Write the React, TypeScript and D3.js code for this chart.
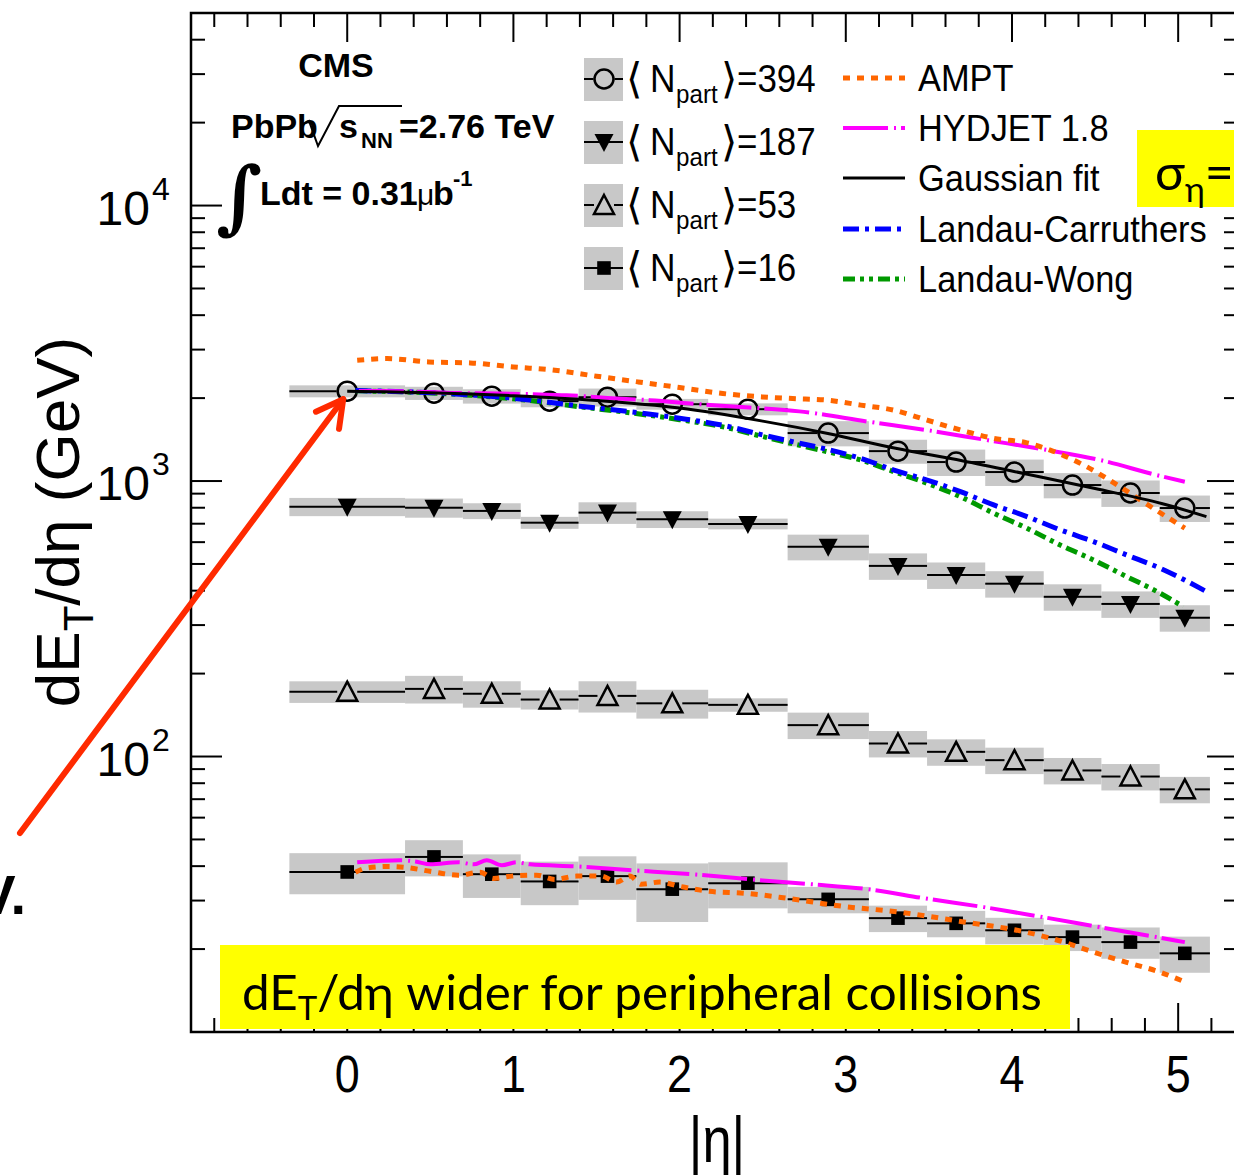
import React from "react";
import * as d3 from "d3";

// |eta| bins of the calorimeter towers
const binCenters = [0, 0.522, 0.87, 1.218, 1.566, 1.956, 2.411, 2.894, 3.314, 3.664, 4.015, 4.364, 4.713, 5.04];
const binLow = [-0.348, 0.348, 0.696, 1.044, 1.392, 1.74, 2.172, 2.65, 3.139, 3.489, 3.839, 4.191, 4.538, 4.889];
const binHigh = [0.348, 0.696, 1.044, 1.392, 1.74, 2.172, 2.65, 3.139, 3.489, 3.839, 4.191, 4.538, 4.889, 5.191];

// dE_T/deta (GeV) per centrality, with relative systematic uncertainties
const et394 = [2119, 2084, 2032, 1950, 2015, 1901, 1823, 1493, 1284, 1172, 1078, 967, 905, 798];
const sys394 = [0.05, 0.055, 0.06, 0.05, 0.075, 0.045, 0.05, 0.105, 0.1, 0.11, 0.11, 0.105, 0.11, 0.11];
const et187 = [807, 800, 779, 706, 768, 726, 699, 577, 492, 456, 424, 380, 358, 319];
const sys187 = [0.076, 0.08, 0.066, 0.05, 0.09, 0.07, 0.045, 0.107, 0.11, 0.11, 0.11, 0.11, 0.11, 0.11];
const et53 = [172, 176, 169, 161, 166, 156, 154, 130, 111.5, 104, 97, 89, 84.6, 76];
const sys53 = [0.09, 0.115, 0.11, 0.08, 0.13, 0.12, 0.056, 0.11, 0.11, 0.11, 0.11, 0.11, 0.11, 0.11];
const et16 = [38.1, 43.2, 37.4, 35.2, 36.8, 33.0, 34.7, 30.3, 25.9, 24.8, 23.4, 22.1, 21.2, 19.3];
const sys16 = [0.17, 0.15, 0.18, 0.18, 0.18, 0.24, 0.19, 0.11, 0.11, 0.11, 0.11, 0.11, 0.13, 0.15];

// model curves
const gaussEta = [0, 0.5, 1.0, 1.5, 2.0, 2.5, 2.9, 3.3, 3.7, 4.1, 4.5, 4.9, 5.17];
const gaussVal = [2119, 2093, 2040, 1960, 1840, 1650, 1485, 1315, 1185, 1056, 939, 829, 743];
const amptEta394 = [0.06, 0.24, 0.49, 0.74, 1.0, 1.25, 1.5, 1.75, 2.0, 2.26, 2.5, 2.68, 2.89, 3.09, 3.29, 3.49, 3.73, 3.89, 4.09, 4.23, 4.45, 4.65, 4.85, 5.04];
const amptVal394 = [2744, 2783, 2706, 2684, 2595, 2524, 2402, 2290, 2185, 2078, 2020, 1993, 1966, 1886, 1808, 1663, 1509, 1428, 1376, 1295, 1127, 953, 796, 674];
const hydEta394 = [0.07, 0.32, 0.62, 0.92, 1.12, 1.32, 1.62, 1.82, 2.12, 2.42, 2.72, 3.15, 3.49, 3.85, 4.19, 4.53, 4.87, 5.04];
const hydVal394 = [2124, 2119, 2089, 2078, 2066, 2049, 1993, 1966, 1901, 1849, 1790, 1637, 1530, 1408, 1303, 1192, 1051, 994];
const lcEta = [0.05, 0.6, 1.1, 1.4, 1.7, 2.0, 2.3, 2.48, 2.69, 2.89, 3.09, 3.29, 3.49, 3.69, 3.89, 4.09, 4.29, 4.49, 4.69, 4.89, 5.17];
const lcVal = [2130, 2080, 1970, 1870, 1785, 1690, 1575, 1480, 1385, 1303, 1208, 1096, 1008, 915, 819, 743, 665, 603, 539, 483, 397];
const lwEta = [0.05, 0.6, 1.1, 1.4, 1.7, 2.0, 2.3, 2.48, 2.69, 2.89, 3.09, 3.29, 3.49, 3.69, 3.89, 4.09, 4.29, 4.49, 4.69, 4.89, 5.03];
const lwVal = [2125, 2075, 1960, 1860, 1770, 1670, 1555, 1460, 1362, 1277, 1192, 1081, 981, 877, 764, 674, 586, 517, 450, 392, 350];
const amptEta16 = [0.05, 0.11, 0.24, 0.35, 0.5, 0.67, 0.8, 0.88, 0.99, 1.14, 1.25, 1.38, 1.53, 1.62, 1.7, 1.77, 1.88, 2.0, 2.18, 2.39, 2.61, 2.98, 3.33, 3.69, 4.09, 4.29, 4.49, 4.69, 4.89, 5.04];
const amptVal16 = [38.0, 39.3, 39.9, 39.6, 38.3, 37.1, 38.0, 36.1, 36.8, 37.1, 35.8, 36.8, 36.8, 35.0, 36.8, 34.4, 35.0, 33.8, 32.4, 31.9, 30.8, 28.6, 27.2, 25.2, 23.0, 21.4, 19.5, 17.9, 16.5, 15.2];
const hydEta16 = [0.06, 0.32, 0.41, 0.5, 0.67, 0.76, 0.84, 0.93, 1.02, 1.1, 1.38, 1.73, 2.07, 2.5, 2.79, 3.13, 3.47, 3.83, 4.19, 4.53, 4.87, 5.04];
const hydVal16 = [41.3, 42.0, 41.6, 40.6, 41.3, 40.6, 42.0, 40.3, 41.3, 40.6, 39.9, 38.6, 37.4, 35.5, 34.4, 33.0, 30.6, 28.4, 26.1, 24.0, 22.1, 21.2];

const npartLabels = ["394", "187", "53", "16"];
const modelLabels = ["AMPT", "HYDJET 1.8", "Gaussian fit", "Landau-Carruthers", "Landau-Wong"];
const xTickLabels = [0, 1, 2, 3, 4, 5];
const yDecades = [2, 3, 4];

const W = 1234, H = 1176;
const fr = { left: 191, right: 1238, top: 13, bottom: 1032 };
const xScale = d3.scaleLinear().domain([-0.94, 5.36]).range([fr.left, fr.right]);
const yScale = d3.scaleLog().domain([10, 50000]).range([fr.bottom, fr.top]);

const GREY = "#c8c8c8";
const FONT = "'Liberation Sans', Arial, Helvetica, sans-serif";

const styles: Record<string, { color: string; width: number; dash?: string }> = {
  AMPT: { color: "#ff6600", width: 5, dash: "7 7" },
  "HYDJET 1.8": { color: "#ff00ff", width: 4, dash: "45 6 2 5" },
  "Gaussian fit": { color: "#000", width: 3 },
  "Landau-Carruthers": { color: "#0000ff", width: 5, dash: "16 6 4 6" },
  "Landau-Wong": { color: "#009900", width: 5, dash: "12 5 4 5 4 5" },
};

const series = [
  { values: et394, sys: sys394, marker: "circle" },
  { values: et187, sys: sys187, marker: "tdown" },
  { values: et53, sys: sys53, marker: "tup" },
  { values: et16, sys: sys16, marker: "square" },
];

const curves = [
  { model: "Landau-Wong", eta: lwEta, val: lwVal },
  { model: "Landau-Carruthers", eta: lcEta, val: lcVal },
  { model: "HYDJET 1.8", eta: hydEta394, val: hydVal394 },
  { model: "AMPT", eta: amptEta394, val: amptVal394 },
  { model: "Gaussian fit", eta: gaussEta, val: gaussVal },
  { model: "HYDJET 1.8", eta: hydEta16, val: hydVal16 },
  { model: "AMPT", eta: amptEta16, val: amptVal16 },
];

const lineGen = d3
  .line<[number, number]>()
  .x((d) => xScale(d[0]))
  .y((d) => yScale(d[1]))
  .curve(d3.curveMonotoneX);

function Marker({ type, x, y }: { type: string; x: number; y: number }) {
  if (type === "circle")
    return <circle cx={x} cy={y} r={9.5} fill="none" stroke="#000" strokeWidth={2.5} />;
  if (type === "tdown")
    return <path d={`M${x - 9.5},${y - 8}L${x + 9.5},${y - 8}L${x},${y + 10}Z`} fill="#000" />;
  if (type === "tup")
    return (
      <path d={`M${x},${y - 10}L${x + 10},${y + 9}L${x - 10},${y + 9}Z`} fill="none" stroke="#000" strokeWidth={2.5} strokeLinejoin="miter" />
    );
  return <rect x={x - 6.8} y={y - 6.8} width={13.6} height={13.6} fill="#000" />;
}

const halfSize: Record<string, number> = { circle: 10.5, tdown: 0, tup: 10, square: 0 };

function Tick({ x1, y1, x2, y2 }: { x1: number; y1: number; x2: number; y2: number }) {
  return <line x1={x1} y1={y1} x2={x2} y2={y2} stroke="#000" strokeWidth={2} />;
}

export default function App() {
  const xMinor = d3.range(-4, 27).map((i) => +(i * 0.2).toFixed(1));
  const yMinor: number[] = [];
  for (let k = 1; k <= 4; k++) for (let m = 1; m <= 9; m++) if (m * 10 ** k <= 50000) yMinor.push(m * 10 ** k);

  const p0x = xScale(binCenters[0]);
  const p0y = yScale(et394[0]);
  const tip: [number, number] = [p0x - 4, p0y + 8];
  const start: [number, number] = [20, 833];
  const ang = Math.atan2(tip[1] - start[1], tip[0] - start[0]);
  const wing = (a: number): [number, number] => [tip[0] - 30 * Math.cos(ang + a), tip[1] - 30 * Math.sin(ang + a)];
  const w1 = wing(0.5);
  const w2 = wing(-0.5);

  const legRows = [79, 142, 205, 268];
  const modelRows = [78, 128, 178, 229, 279];
  const BR = "'DejaVu Sans', sans-serif";

  return (
    <div style={{ position: "absolute", left: 0, top: 0 }}>
      <svg width={W} height={H} viewBox={`0 0 ${W} ${H}`} style={{ display: "block", background: "#fff" }}>
        {/* systematic boxes */}
        <g>
          {series.map((s, si) =>
            s.values.map((v, i) => {
              const y1 = yScale(v * (1 + s.sys[i]));
              const y2 = yScale(v * (1 - s.sys[i]));
              return (
                <rect key={`b${si}-${i}`} x={xScale(binLow[i])} y={y1} width={xScale(binHigh[i]) - xScale(binLow[i])} height={y2 - y1} fill={GREY} />
              );
            })
          )}
        </g>
        {/* bin-width lines and markers */}
        <g>
          {series.map((s, si) =>
            s.values.map((v, i) => {
              const cx = xScale(binCenters[i]);
              const cy = yScale(v);
              const hs = halfSize[s.marker];
              return (
                <g key={`p${si}-${i}`}>
                  <line x1={xScale(binLow[i])} x2={cx - hs} y1={cy} y2={cy} stroke="#000" strokeWidth={2} />
                  <line x1={cx + hs} x2={xScale(binHigh[i])} y1={cy} y2={cy} stroke="#000" strokeWidth={2} />
                  <Marker type={s.marker} x={cx} y={cy} />
                </g>
              );
            })
          )}
        </g>
        {/* model curves */}
        <g fill="none">
          {curves.map((c, ci) => {
            const st = styles[c.model];
            const pts = c.eta.map((e, i) => [e, c.val[i]] as [number, number]);
            return <path key={`c${ci}`} d={lineGen(pts) || ""} stroke={st.color} strokeWidth={st.width} strokeDasharray={st.dash} />;
          })}
        </g>

        {/* frame and ticks */}
        <g>
          {xMinor.map((t) => {
            const x = xScale(t);
            const len = Number.isInteger(t) ? 29 : 14;
            return (
              <g key={`xt${t}`}>
                <Tick x1={x} x2={x} y1={fr.bottom} y2={fr.bottom - len} />
                <Tick x1={x} x2={x} y1={fr.top} y2={fr.top + len} />
              </g>
            );
          })}
          {yMinor.map((v) => {
            const y = yScale(v);
            const major = Math.abs(Math.log10(v) - Math.round(Math.log10(v))) < 1e-9;
            const len = major ? 31 : 14;
            return (
              <g key={`yt${v}`}>
                <Tick x1={fr.left} x2={fr.left + len} y1={y} y2={y} />
                <Tick x1={fr.right} x2={fr.right - len} y1={y} y2={y} />
              </g>
            );
          })}
          <rect x={fr.left} y={fr.top} width={fr.right - fr.left} height={fr.bottom - fr.top} fill="none" stroke="#000" strokeWidth={2.5} />
        </g>

        {/* tick labels */}
        <g fontFamily={FONT} fill="#000">
          {xTickLabels.map((t) => (
            <text key={`xl${t}`} transform={`translate(${xScale(t)},1092) scale(0.88,1)`} fontSize={51} textAnchor="middle">
              {t}
            </text>
          ))}
          {yDecades.map((k) => {
            const y = yScale(10 ** k);
            return (
              <g key={`yl${k}`}>
                <text x={150} y={y + 19} fontSize={48} textAnchor="end">10</text>
                <text x={152} y={y - 6} fontSize={32}>{k}</text>
              </g>
            );
          })}
        </g>

        {/* axis titles */}
        <text fontFamily={FONT} fontSize={64} textAnchor="middle" transform={`translate(717,1162) scale(0.82,1)`}>|η|</text>
        <text fontFamily={FONT} fontSize={62} textAnchor="middle" transform="translate(79,522) rotate(-90)">
          dE<tspan fontSize={42} dy={14}>T</tspan>
          <tspan dy={-14}>/dη (GeV)</tspan>
        </text>

        {/* CMS labels */}
        <g fontFamily={FONT} fontWeight="bold" fill="#000">
          <text x={336} y={77} fontSize={34} textAnchor="middle">CMS</text>
          <text x={231} y={138} fontSize={34}>PbPb</text>
          <path d="M303,124 L309,121 L318,146 L339,106 L402,106" fill="none" stroke="#000" strokeWidth={2} />
          <text x={339} y={138} fontSize={34}>s</text>
          <text x={361} y={148} fontSize={22}>NN</text>
          <text x={399} y={138} fontSize={34}>=2.76 TeV</text>
          <text x={216} y={224} fontSize={80} fontWeight="bold" fontFamily="'DejaVu Serif', serif">∫</text>
          <text x={260} y={205} fontSize={34}>Ldt = 0.31</text>
          <text x={417} y={205} fontSize={30} fontWeight="normal">μ</text>
          <text x={433} y={205} fontSize={34}>b</text>
          <text x={453} y={186} fontSize={22}>-1</text>
        </g>

        {/* legend: data */}
        <g fontFamily={FONT} fill="#000">
          {series.map((s, i) => {
            const y = legRows[i];
            const b = y + 13;
            return (
              <g key={`lg${i}`}>
                <rect x={584} y={y - 21} width={39} height={43} fill={GREY} />
                <line x1={584} x2={604 - halfSize[s.marker]} y1={y} y2={y} stroke="#000" strokeWidth={2} />
                <line x1={604 + halfSize[s.marker]} x2={623} y1={y} y2={y} stroke="#000" strokeWidth={2} />
                <Marker type={s.marker} x={604} y={y} />
                <text x={626} y={b + 1} fontFamily={BR} fontSize={42}>⟨</text>
                <text transform={`translate(650,${b}) scale(0.93,1)`} fontSize={38}>N</text>
                <text transform={`translate(676,${b + 11}) scale(0.93,1)`} fontSize={26}>part</text>
                <text x={721} y={b + 1} fontFamily={BR} fontSize={42}>⟩</text>
                <text transform={`translate(737,${b}) scale(0.92,1)`} fontSize={38}>={npartLabels[i]}</text>
              </g>
            );
          })}
        </g>

        {/* legend: models */}
        <g fontFamily={FONT} fill="#000">
          {modelLabels.map((m, i) => {
            const y = modelRows[i];
            const st = styles[m];
            return (
              <g key={`lm${i}`}>
                <line x1={843} x2={905} y1={y} y2={y} stroke={st.color} strokeWidth={st.width} strokeDasharray={st.dash} />
                <text transform={`translate(918,${y + 13}) scale(0.93,1)`} fontSize={37}>{m}</text>
              </g>
            );
          })}
        </g>

        {/* slide annotations */}
        <rect x={1137} y={130} width={110} height={77} fill="#ffff00" />
        <text x={1155} y={190} fontFamily="Lato, 'Open Sans', sans-serif" fontSize={50} fill="#000">
          σ<tspan fontSize={34} dy={12}>η</tspan>
          <tspan dy={-12}>=3</tspan>
        </text>
        <rect x={220} y={945} width={850} height={84} fill="#ffff00" />
        <text x={242} y={1010} fontFamily="Lato, 'Open Sans', sans-serif" fontSize={48} fill="#000" textLength={800} lengthAdjust="spacingAndGlyphs">
          dE<tspan fontSize={32} dy={10}>T</tspan>
          <tspan dy={-10}>/dη wider for peripheral collisions</tspan>
        </text>
        <text x={26} y={914} fontFamily={FONT} fontWeight="bold" fontSize={56} textAnchor="end" fill="#000">V.</text>

        {/* arrow */}
        <g stroke="#ff2a00" strokeWidth={6} strokeLinecap="round" fill="none">
          <line x1={start[0]} y1={start[1]} x2={tip[0]} y2={tip[1]} />
          <polyline points={`${w1[0]},${w1[1]} ${tip[0]},${tip[1]} ${w2[0]},${w2[1]}`} strokeLinejoin="round" />
        </g>
      </svg>
    </div>
  );
}
